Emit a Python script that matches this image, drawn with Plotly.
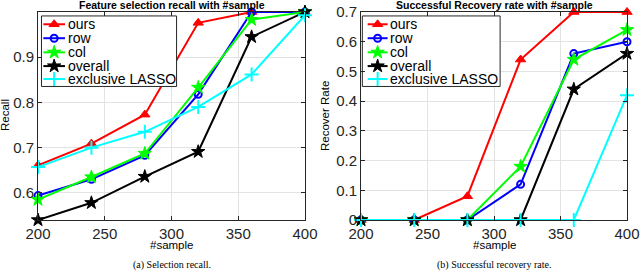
import plotly.graph_objects as go

# ---------------- data ----------------
samples = [200, 240, 280, 320, 360, 400]
x_ticks = [200, 250, 300, 350, 400]
series_names = ["ours", "row", "col", "overall", "exclusive LASSO"]

recall_ours = [0.661, 0.709, 0.773, 0.976, 1.0, 1.0]
recall_row = [0.594, 0.630, 0.683, 0.818, 1.0, 1.0]
recall_col = [0.585, 0.635, 0.687, 0.833, 0.983, 1.0]
recall_overall = [0.540, 0.578, 0.636, 0.691, 0.945, 1.0]
recall_lasso = [0.657, 0.700, 0.735, 0.790, 0.862, 0.993]

recovery_ours = [0.0, 0.0, 0.08, 0.54, 0.70, 0.70]
recovery_row = [0.0, 0.0, 0.0, 0.12, 0.56, 0.60]
recovery_col = [0.0, 0.0, 0.0, 0.18, 0.54, 0.64]
recovery_overall = [0.0, 0.0, 0.0, 0.0, 0.44, 0.56]
recovery_lasso = [0.0, 0.0, 0.0, 0.0, 0.0, 0.42]

recall_ticks = [0.6, 0.7, 0.8, 0.9]
recovery_ticks = [0, 0.1, 0.2, 0.3, 0.4, 0.5, 0.6, 0.7]
recovery_ticktext = ["0", "0.1", "0.2", "0.3", "0.4", "0.5", "0.6", "0.7"]

# ---------------- styles ----------------
W, H = 640, 274
colors = ["#FF0000", "#0000FF", "#00FF00", "#000000", "#00FFFF"]
symbols = ["triangle-up", "circle-open", "star", "star", "cross-thin-open"]
msizes = [9, 7, 10, 10, 10]
FONT = "Liberation Sans, Arial, Helvetica, sans-serif"
SERIF = "Liberation Serif, Times New Roman, serif"

# axis pixel boxes
left_box = (38, 305)
right_box = (361, 627)
y_top, y_bot = 12, 220

def dom(a, b):
    return [a / W, b / W]

ydom = [1 - y_bot / H, 1 - y_top / H]

fig = go.Figure()

xr = [200, 400]
yr_left = [0.54, 1.0]
yr_right = [0.0, 0.7]

def marker(i):
    return dict(symbol=symbols[i], size=msizes[i], color=colors[i],
                line=dict(color=colors[i], width=2 if symbols[i].endswith("open") else 1))

def add_series(datasets, xa, ya):
    for i, ys in enumerate(datasets):
        fig.add_trace(go.Scatter(
            x=samples, y=ys, mode="lines+markers", name=series_names[i],
            line=dict(color=colors[i], width=2), marker=marker(i),
            cliponaxis=False, showlegend=False, xaxis=xa, yaxis=ya,
            hoverinfo="skip"))

def add_legend(xa, ya, yr, box_fx, line_fx, text_fx):
    fx = lambda f: xr[0] + f * (xr[1] - xr[0])
    fy = lambda f: yr[0] + f * (yr[1] - yr[0])
    bx0, bx1 = box_fx
    by0, by1 = 0.642, 0.981
    fig.add_trace(go.Scatter(
        x=[fx(bx0), fx(bx1), fx(bx1), fx(bx0), fx(bx0)],
        y=[fy(by0), fy(by0), fy(by1), fy(by1), fy(by0)],
        mode="lines", fill="toself", fillcolor="white",
        line=dict(color="#262626", width=1), showlegend=False,
        hoverinfo="skip", xaxis=xa, yaxis=ya, cliponaxis=False))
    rows = [0.941, 0.874, 0.806, 0.740, 0.678]
    for i, r in enumerate(rows):
        fig.add_trace(go.Scatter(
            x=[fx(line_fx[0]), fx(line_fx[1])], y=[fy(r), fy(r)],
            mode="lines", line=dict(color=colors[i], width=2),
            showlegend=False, hoverinfo="skip", xaxis=xa, yaxis=ya, cliponaxis=False))
        fig.add_trace(go.Scatter(
            x=[fx((line_fx[0] + line_fx[1]) / 2)], y=[fy(r)],
            mode="markers", marker=marker(i),
            showlegend=False, hoverinfo="skip", xaxis=xa, yaxis=ya, cliponaxis=False))
        fig.add_annotation(
            xref=xa + " domain", yref=ya + " domain",
            x=text_fx, y=r, text=series_names[i], showarrow=False,
            xanchor="left", yanchor="middle",
            font=dict(family=FONT, size=14, color="#000"))

add_series([recall_ours, recall_row, recall_col, recall_overall, recall_lasso], "x", "y")
add_legend("x", "y", yr_left, (0.013, 0.519), (0.02, 0.101), 0.103)
add_series([recovery_ours, recovery_row, recovery_col, recovery_overall, recovery_lasso], "x2", "y2")
add_legend("x2", "y2", yr_right, (0.005, 0.523), (0.025, 0.10), 0.100)

axis_common = dict(
    showline=True, linecolor="#262626", linewidth=1, mirror="ticks",
    ticks="inside", ticklen=4, tickcolor="#262626", automargin=False,
    showgrid=True, gridcolor="#e3e3e3", gridwidth=1, zeroline=False,
    tickfont=dict(family=FONT, size=15, color="#262626"),
)

fig.update_layout(
    template="none",
    width=W, height=H, autosize=False,
    margin=dict(l=0, r=0, t=0, b=0, pad=0),
    paper_bgcolor="white", plot_bgcolor="white",
    showlegend=False,
    xaxis=dict(domain=dom(*left_box), range=xr, tickvals=x_ticks,
               anchor="y", **axis_common),
    yaxis=dict(domain=ydom, range=yr_left, tickvals=recall_ticks,
               ticktext=[str(t) for t in recall_ticks], anchor="x", **axis_common),
    xaxis2=dict(domain=dom(*right_box), range=xr, tickvals=x_ticks,
                anchor="y2", **axis_common),
    yaxis2=dict(domain=ydom, range=yr_right, tickvals=recovery_ticks,
                ticktext=recovery_ticktext, anchor="x2", **axis_common),
)

# titles, axis labels, captions
def ann(x, y, text, size, family=FONT, bold=False, angle=0, xref="paper"):
    fig.add_annotation(x=x, y=y, xref=xref, yref="paper",
                       text=("<b>%s</b>" % text) if bold else text,
                       showarrow=False, xanchor="center", yanchor="middle",
                       textangle=angle, font=dict(family=family, size=size, color="#000"))

ann(0.5, 1 - 5 / H, "Feature selection recall with #sample", 10.5, bold=True, xref="x domain")
ann(0.5, 1 - 5 / H, "Successful Recovery rate with #sample", 10.5, bold=True, xref="x2 domain")
ann(0.5, 1 - 245 / H, "#sample", 11.5, xref="x domain")
ann(0.5, 1 - 245 / H, "#sample", 11.5, xref="x2 domain")
ann(5 / W, 1 - 115 / H, "Recall", 11.5, angle=-90)
ann(325 / W, 1 - 116 / H, "Recover Rate", 11.5, angle=-90)
ann(0.5, 1 - 265 / H, "(a) Selection recall.", 10, family=SERIF, xref="x domain")
ann(0.5, 1 - 265 / H, "(b) Successful recovery rate.", 10, family=SERIF, xref="x2 domain")

fig.write_html("out.html", config={"displayModeBar": False, "staticPlot": True},
               post_script="document.body.style.margin='0';document.body.style.overflow='hidden';")
